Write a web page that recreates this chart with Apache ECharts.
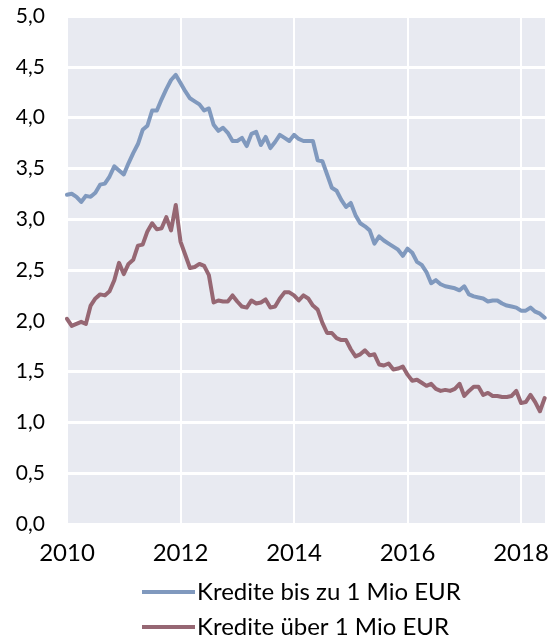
<!DOCTYPE html>
<html>
<head>
<meta charset="utf-8">
<script src="https://cdn.jsdelivr.net/npm/echarts@6/dist/echarts.min.js"></script>
<style>
  html, body { margin: 0; padding: 0; background: #fff; }
  #chart { width: 556px; height: 640px; }
</style>
</head>
<body>
<div id="chart"></div>
<script>
// Monatswerte Jan 2010 - Jun 2018
const startYear = 2010
const monthCount = 102
const months = Array.from({ length: monthCount }, (_, i) => startYear + i / 12)

const seriesNames = ['Kredite bis zu 1 Mio EUR', 'Kredite über 1 Mio EUR']

const kleinKredite = [
  3.24, 3.25, 3.22, 3.17, 3.23, 3.22, 3.26, 3.34, 3.35, 3.42, 3.52, 3.48,
  3.44, 3.55, 3.65, 3.74, 3.88, 3.92, 4.07, 4.07, 4.18, 4.28, 4.37, 4.42,
  4.34, 4.26, 4.19, 4.16, 4.13, 4.07, 4.09, 3.93, 3.87, 3.90, 3.85, 3.77,
  3.77, 3.80, 3.72, 3.84, 3.86, 3.73, 3.81, 3.70, 3.76, 3.83, 3.80, 3.77,
  3.83, 3.79, 3.77, 3.77, 3.77, 3.58, 3.57, 3.44, 3.31, 3.28, 3.19, 3.12,
  3.16, 3.04, 2.96, 2.93, 2.89, 2.76, 2.83, 2.79, 2.76, 2.73, 2.70, 2.64,
  2.71, 2.67, 2.58, 2.55, 2.48, 2.37, 2.40, 2.36, 2.34, 2.33, 2.32, 2.30,
  2.34, 2.26, 2.24, 2.23, 2.22, 2.19, 2.20, 2.20, 2.17, 2.15, 2.14, 2.13,
  2.10, 2.10, 2.13, 2.09, 2.07, 2.03
]

const grossKredite = [
  2.02, 1.95, 1.97, 1.99, 1.97, 2.15, 2.22, 2.26, 2.25, 2.29, 2.40, 2.57,
  2.46, 2.56, 2.60, 2.74, 2.75, 2.88, 2.96, 2.90, 2.91, 3.02, 2.89, 3.14,
  2.78, 2.65, 2.52, 2.53, 2.56, 2.54, 2.45, 2.18, 2.20, 2.19, 2.19, 2.25,
  2.19, 2.14, 2.13, 2.20, 2.17, 2.18, 2.21, 2.13, 2.14, 2.22, 2.28, 2.28,
  2.25, 2.20, 2.25, 2.22, 2.15, 2.11, 1.98, 1.88, 1.88, 1.83, 1.81, 1.81,
  1.72, 1.65, 1.67, 1.71, 1.66, 1.67, 1.57, 1.56, 1.58, 1.52, 1.53, 1.55,
  1.47, 1.41, 1.42, 1.39, 1.36, 1.38, 1.33, 1.31, 1.32, 1.31, 1.33, 1.38,
  1.26, 1.31, 1.35, 1.35, 1.27, 1.29, 1.26, 1.26, 1.25, 1.25, 1.26, 1.31,
  1.19, 1.20, 1.27, 1.20, 1.11, 1.24
]

const colors = ['#8099be', '#966773']
const font = 'Lato, "Open Sans", sans-serif'

const chart = echarts.init(document.getElementById('chart'))

function pairs(values) {
  return values.map((v, i) => [months[i], v])
}

chart.setOption({
  animation: false,
  grid: {
    left: 67, right: 10, top: 16, bottom: 116,
    show: true, backgroundColor: '#e8eaf1', borderWidth: 0
  },
  legend: {
    orient: 'vertical',
    left: 142,
    top: 580,
    padding: 0,
    itemGap: 11,
    itemWidth: 53,
    itemHeight: 4,
    icon: 'rect',
    textStyle: {
      fontFamily: font, fontSize: 24, lineHeight: 24, color: '#000',
      padding: [0, 0, 0, -3]
    },
    data: seriesNames
  },
  xAxis: {
    type: 'value',
    min: 2010,
    max: 2018.44,
    interval: 2,
    axisLine: { show: false },
    axisTick: { show: false },
    axisLabel: {
      showMaxLabel: false,
      margin: 17,
      color: '#000',
      fontFamily: font,
      fontSize: 24,
      formatter: (v) => String(Math.round(v))
    },
    splitLine: { show: true, lineStyle: { color: '#fff', width: 2 } }
  },
  yAxis: {
    type: 'value',
    min: 0,
    max: 5,
    interval: 0.5,
    axisLine: { show: false },
    axisTick: { show: false },
    axisLabel: {
      margin: 22,
      color: '#000',
      fontFamily: font,
      fontSize: 21,
      formatter: (v) => v.toFixed(1).replace('.', ',')
    },
    splitLine: { show: true, lineStyle: { color: '#fff', width: 3 } }
  },
  series: [
    {
      name: seriesNames[0],
      type: 'line',
      data: pairs(kleinKredite),
      showSymbol: false,
      color: colors[0],
      lineStyle: { width: 4, color: colors[0], join: 'round', cap: 'round' }
    },
    {
      name: seriesNames[1],
      type: 'line',
      data: pairs(grossKredite),
      showSymbol: false,
      color: colors[1],
      lineStyle: { width: 4, color: colors[1], join: 'round', cap: 'round' }
    }
  ]
})
</script>
</body>
</html>
